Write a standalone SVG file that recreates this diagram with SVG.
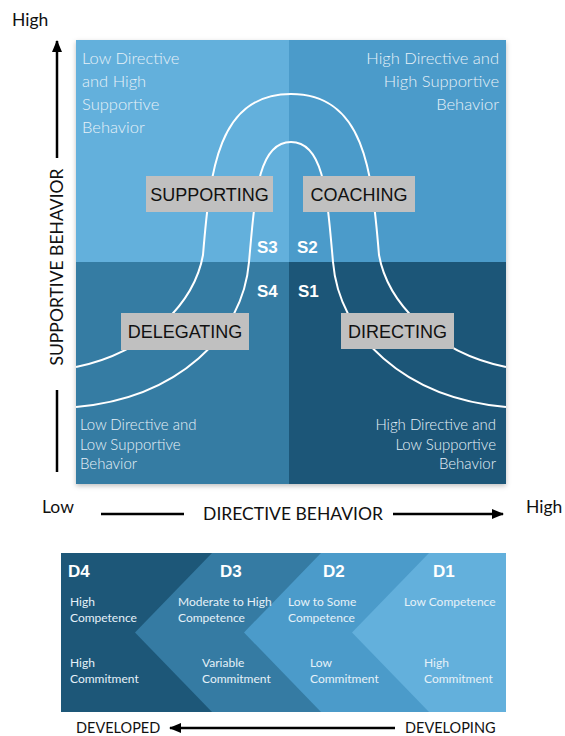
<svg xmlns="http://www.w3.org/2000/svg" width="565" height="736" viewBox="0 0 565 736">
  <defs>
    <marker id="arrow" markerWidth="12" markerHeight="10" refX="11" refY="5" orient="auto" markerUnits="userSpaceOnUse">
      <path d="M0,0 L12,5 L0,10 Z" fill="#000"/>
    </marker>
    <filter id="shadow" x="-5%" y="-5%" width="110%" height="110%">
      <feDropShadow dx="0" dy="2" stdDeviation="2.5" flood-color="#000" flood-opacity="0.25"/>
    </filter>
    <style>
      .axis { font-family: Lato, "Open Sans", sans-serif; font-size: 17.5px; fill: #111; }
      .axline { stroke: #000; stroke-width: 2.5; fill: none; }
      .qtext { font-family: Lato, "Open Sans", sans-serif; font-size: 16.5px; fill: #e6f1f8; font-weight: 300; }
      .qtext.low { font-size: 15px; }
      .curve { stroke: #fff; stroke-width: 2; fill: none; }
      .lbl rect { fill: #c0c0c0; }
      .lbl text { font-family: "Liberation Sans", Arial, sans-serif; font-size: 18px; fill: #111; text-anchor: middle; }
      .snum { font-family: "Liberation Sans", Arial, sans-serif; font-size: 17px; font-weight: bold; fill: #fff; }
      .dnum { font-family: "Liberation Sans", Arial, sans-serif; font-size: 17px; font-weight: bold; fill: #fff; }
      .dtext { font-family: Lato, "Open Sans", sans-serif; font-size: 12px; fill: #e6f1f8; }
      .dev { font-family: Lato, "Open Sans", sans-serif; font-size: 14.5px; fill: #111; }
    </style>
  </defs>

  <rect width="565" height="736" fill="#fff"/>

  <!-- Supportive behavior axis -->
  <g id="axis-y">
    <text class="axis" x="12" y="26">High</text>
    <line class="axline" x1="57" y1="158" x2="57" y2="41" marker-end="url(#arrow)"/>
    <text class="axis" transform="translate(63,267) rotate(-90)" text-anchor="middle">SUPPORTIVE BEHAVIOR</text>
    <line class="axline" x1="57" y1="390" x2="57" y2="472"/>
  </g>

  <!-- Quadrants -->
  <g id="quadrants" filter="url(#shadow)">
    <rect x="76" y="40" width="213" height="222" fill="#63b0dc"/>
    <rect x="289" y="40" width="217" height="222" fill="#4b9bca"/>
    <rect x="76" y="262" width="213" height="222" fill="#357ba3"/>
    <rect x="289" y="262" width="217" height="222" fill="#1d5778"/>
  </g>

  <g id="quadrant-notes">
    <text class="qtext" x="82" y="64">Low Directive</text>
    <text class="qtext" x="82" y="87">and High</text>
    <text class="qtext" x="82" y="110">Supportive</text>
    <text class="qtext" x="82" y="133">Behavior</text>
    <text class="qtext" x="499" y="64" text-anchor="end">High Directive and</text>
    <text class="qtext" x="499" y="87" text-anchor="end">High Supportive</text>
    <text class="qtext" x="499" y="110" text-anchor="end">Behavior</text>
    <text class="qtext low" x="80" y="430">Low Directive and</text>
    <text class="qtext low" x="80" y="450">Low Supportive</text>
    <text class="qtext low" x="80" y="469">Behavior</text>
    <text class="qtext low" x="496" y="430" text-anchor="end">High Directive and</text>
    <text class="qtext low" x="496" y="450" text-anchor="end">Low Supportive</text>
    <text class="qtext low" x="496" y="469" text-anchor="end">Behavior</text>
  </g>

  <!-- Bell curve band -->
  <g id="connectors">
    <path class="curve" d="M76,367 C150,352 195,300 203,255 C210,170 218,94 291,94 C364,94 372,170 379,255 C387,300 432,352 506,367"/>
    <path class="curve" d="M76,407 C178,398 243,335 249,262 C255,195 258,142 291,142 C324,142 327,195 333,262 C339,335 404,398 506,407"/>
  </g>

  <g id="supporting" class="lbl">
    <rect x="146" y="176" width="127" height="36"/>
    <text x="209.5" y="200.5">SUPPORTING</text>
  </g>
  <g id="coaching" class="lbl">
    <rect x="303" y="176" width="112" height="36"/>
    <text x="359" y="200.5">COACHING</text>
  </g>
  <g id="delegating" class="lbl">
    <rect x="121" y="313" width="128" height="37"/>
    <text x="185" y="338">DELEGATING</text>
  </g>
  <g id="directing" class="lbl">
    <rect x="341" y="313" width="113" height="36"/>
    <text x="397.5" y="337.5">DIRECTING</text>
  </g>

  <g id="styles">
    <text class="snum" x="257" y="253">S3</text>
    <text class="snum" x="297" y="253">S2</text>
    <text class="snum" x="257" y="297">S4</text>
    <text class="snum" x="298" y="297">S1</text>
  </g>

  <!-- Directive behavior axis -->
  <g id="axis-x">
    <text class="axis" x="42" y="513">Low</text>
    <line class="axline" x1="101" y1="514" x2="184" y2="514"/>
    <text class="axis" x="293" y="520" text-anchor="middle">DIRECTIVE BEHAVIOR</text>
    <line class="axline" x1="393" y1="514" x2="503" y2="514" marker-end="url(#arrow)"/>
    <text class="axis" x="526" y="513">High</text>
  </g>

  <!-- Development levels -->
  <g id="development">
    <rect x="61" y="553" width="445" height="159" fill="#1d5778"/>
    <polygon points="212,553 506,553 506,712 212,712 135,632.5" fill="#357ba3"/>
    <polygon points="321,553 506,553 506,712 321,712 244,632.5" fill="#4b9bca"/>
    <polygon points="429,553 506,553 506,712 429,712 352,632.5" fill="#63b0dc"/>
  </g>

  <g id="d4">
    <text class="dnum" x="68" y="577">D4</text>
    <text class="dtext" x="70" y="606">High</text>
    <text class="dtext" x="70" y="622">Competence</text>
    <text class="dtext" x="70" y="667">High</text>
    <text class="dtext" x="70" y="683">Commitment</text>
  </g>
  <g id="d3">
    <text class="dnum" x="220" y="577">D3</text>
    <text class="dtext" x="178" y="606">Moderate to High</text>
    <text class="dtext" x="178" y="622">Competence</text>
    <text class="dtext" x="202" y="667">Variable</text>
    <text class="dtext" x="202" y="683">Commitment</text>
  </g>
  <g id="d2">
    <text class="dnum" x="323" y="577">D2</text>
    <text class="dtext" x="288" y="606">Low to Some</text>
    <text class="dtext" x="288" y="622">Competence</text>
    <text class="dtext" x="310" y="667">Low</text>
    <text class="dtext" x="310" y="683">Commitment</text>
  </g>
  <g id="d1">
    <text class="dnum" x="433" y="577">D1</text>
    <text class="dtext" x="404" y="606">Low Competence</text>
    <text class="dtext" x="424" y="667">High</text>
    <text class="dtext" x="424" y="683">Commitment</text>
  </g>

  <g id="development-axis">
    <text class="dev" x="76" y="733">DEVELOPED</text>
    <line class="axline" x1="395" y1="728" x2="170" y2="728" marker-end="url(#arrow)"/>
    <text class="dev" x="405" y="733">DEVELOPING</text>
  </g>
</svg>
